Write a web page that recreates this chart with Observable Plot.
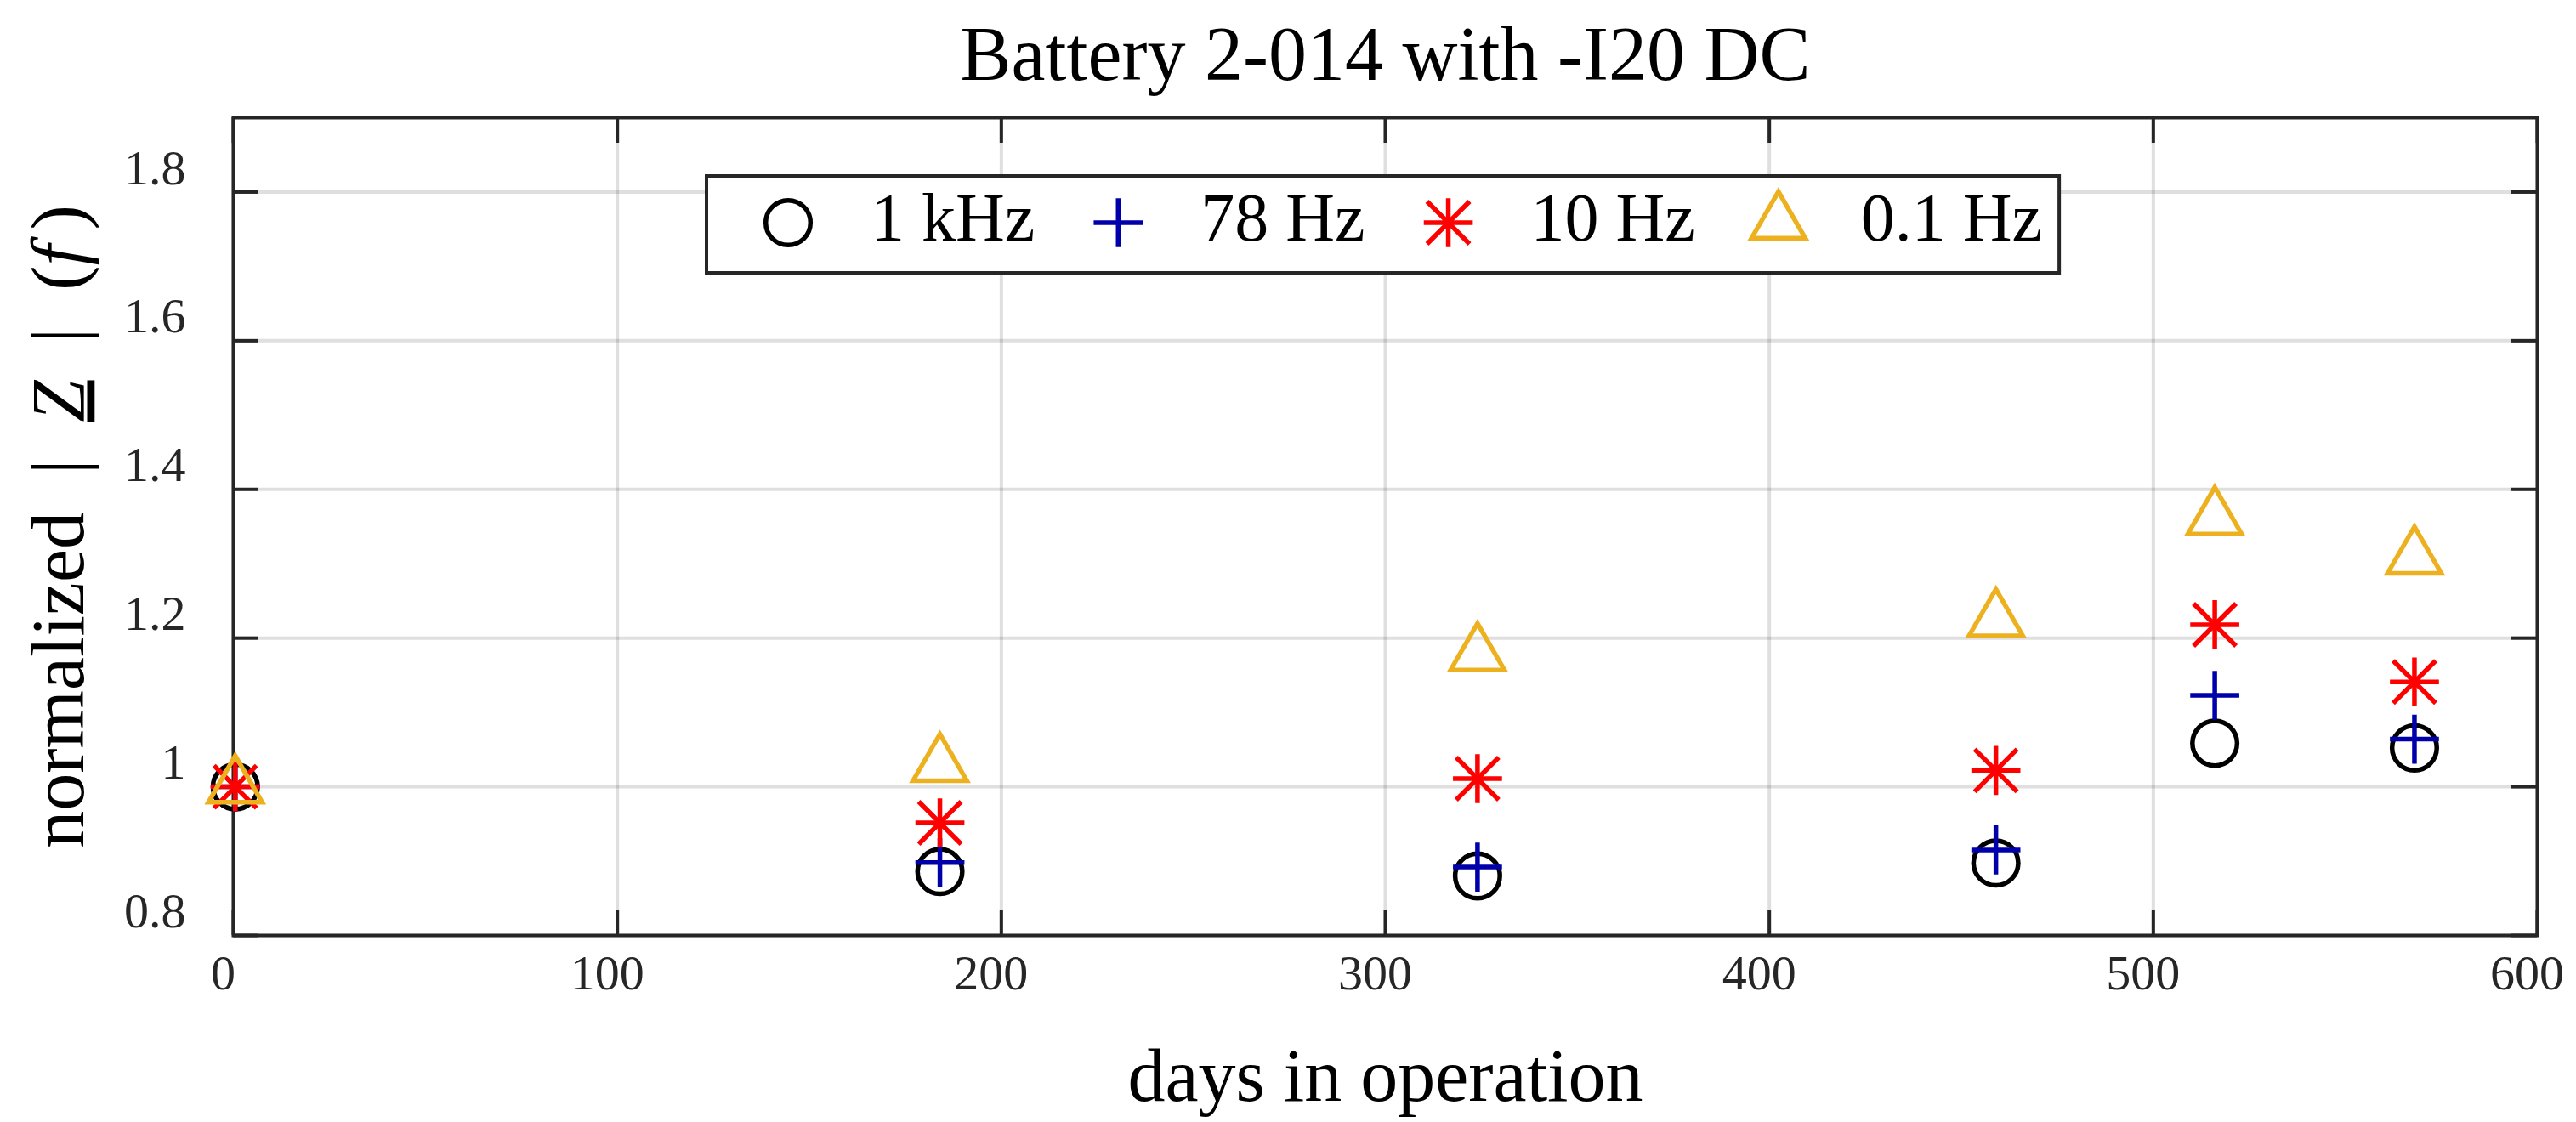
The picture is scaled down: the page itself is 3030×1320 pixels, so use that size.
<!DOCTYPE html>
<html>
<head>
<meta charset="utf-8">
<script src="https://cdn.jsdelivr.net/npm/d3@7"></script>
<script src="https://cdn.jsdelivr.net/npm/@observablehq/plot@0.6"></script>
<style>
  html, body { margin: 0; padding: 0; background: #ffffff; }
  #chart { width: 3030px; height: 1320px; }
</style>
</head>
<body>
<div id="chart"></div>
<script>
// ---- data ----
const titleText = "Battery 2-014 with -I20 DC";
const xLabel = "days in operation";
const yLabel = "normalized | Z | (f)";
const days = [0.5, 184, 324, 459, 516, 568];
const z1kHz = [1.0, 0.886, 0.880, 0.8975, 1.0586, 1.0523];
const z78Hz = [1.0, 0.898, 0.892, 0.915, 1.123, 1.064];
const z10Hz = [1.0, 0.9515, 1.011, 1.022, 1.218, 1.141];
const z01Hz = [1.0, 1.029, 1.178, 1.224, 1.361, 1.308];
const seriesNames = ["1 kHz", "78 Hz", "10 Hz", "0.1 Hz"];
const xTicks = [0, 100, 200, 300, 400, 500, 600];
const yTicks = [0.8, 1, 1.2, 1.4, 1.6, 1.8];

// ---- styling ----
const W = 3030, H = 1320, mL = 274, mR = 46, mT = 138, mB = 220;
const fw = W - mL - mR, fh = H - mT - mB;
const axisColor = "#262626";
const colors = ["#000000", "#0000aa", "#ff0000", "#edb120"];
const SW = 5.5;
const R = {circle: 26.3, plus: 18.6, times: 22.8, triangle: 30.2};
const font = "'Liberation Serif', 'DejaVu Serif', serif";

const rows = (vals) => days.map((d, i) => ({day: d, v: vals[i]}));

const starMarks = (data, color) => [
  Plot.dot(data, {x: "day", y: "v", symbol: d3.symbolPlus, r: R.plus, stroke: color, strokeWidth: SW}),
  Plot.dot(data, {x: "day", y: "v", symbol: d3.symbolTimes, r: R.times, stroke: color, strokeWidth: SW})
];

const chart = Plot.plot({
  width: W, height: H,
  marginLeft: mL, marginRight: mR, marginTop: mT, marginBottom: mB,
  x: {domain: [0, 600]},
  y: {domain: [0.8, 1.9]},
  style: {fontFamily: font, fontSize: "58px", background: "#ffffff", color: axisColor, overflow: "visible"},
  marks: [
    Plot.gridX(xTicks, {stroke: axisColor, strokeOpacity: 0.15, strokeWidth: 4}),
    Plot.gridY(yTicks, {stroke: axisColor, strokeOpacity: 0.15, strokeWidth: 4}),
    Plot.axisX(xTicks, {tickSize: 0, tickPadding: 22, dx: -12, label: null, tickFormat: d => String(d)}),
    Plot.axisY(yTicks, {tickSize: 0, tickPadding: 56, dy: -28, label: null, tickFormat: d => String(d)}),
    // inward ticks on all four sides
    Plot.tickX(xTicks, {x: d => d, insetTop: fh - 30, stroke: axisColor, strokeWidth: 4}),
    Plot.tickX(xTicks, {x: d => d, insetBottom: fh - 30, stroke: axisColor, strokeWidth: 4}),
    Plot.tickY(yTicks, {y: d => d, insetRight: fw - 30, stroke: axisColor, strokeWidth: 4}),
    Plot.tickY(yTicks, {y: d => d, insetLeft: fw - 30, stroke: axisColor, strokeWidth: 4}),
    Plot.frame({stroke: axisColor, strokeWidth: 4}),
    // data
    Plot.dot(rows(z1kHz), {x: "day", y: "v", symbol: "circle", r: R.circle, fill: "none", stroke: colors[0], strokeWidth: SW}),
    Plot.dot(rows(z78Hz), {x: "day", y: "v", symbol: d3.symbolPlus, r: R.plus, stroke: colors[1], strokeWidth: SW}),
    ...starMarks(rows(z10Hz), colors[2]),
    Plot.dot(rows(z01Hz), {x: "day", y: "v", symbol: d3.symbolTriangle2, r: R.triangle, fill: "none", stroke: colors[3], strokeWidth: SW}),
    // title and axis labels
    Plot.text([titleText], {frameAnchor: "top", dy: -45, lineAnchor: "bottom", textAnchor: "middle", fontSize: 90, fill: "#000000"}),
    Plot.text([xLabel], {frameAnchor: "bottom", dy: 194, lineAnchor: "bottom", textAnchor: "middle", fontSize: 88, fill: "#000000"}),
    Plot.text([yLabel], {frameAnchor: "left", dx: -177, rotate: -90, lineAnchor: "bottom", textAnchor: "middle", fontSize: 88, fill: "#000000"})
  ]
});
document.getElementById("chart").appendChild(chart);

const svg = d3.select(chart);

// format y label with italic / underlined symbols (wider math spacing)
const sp = "\u00a0\u00a0";
svg.selectAll("text").filter(function () { return this.textContent === yLabel; }).each(function () {
  const t = d3.select(this);
  t.text(null);
  t.append("tspan").text("normalized" + sp + "|" + sp);
  t.append("tspan").attr("font-style", "italic").attr("text-decoration", "underline").text("Z");
  t.append("tspan").text(sp + "|" + sp + "(");
  t.append("tspan").attr("font-style", "italic").text("f\u2009");
  t.append("tspan").text(")");
});

// legend box inside the plot
const legendSymbols = [
  [d3.symbolCircle, R.circle],
  [d3.symbolPlus, R.plus],
  null,
  [d3.symbolTriangle2, R.triangle]
];
const lg = svg.append("g").attr("font-family", font).attr("font-size", 80).attr("text-anchor", "start");
const box = lg.append("rect")
  .attr("x", 831).attr("y", 207).attr("width", 1606).attr("height", 114)
  .attr("fill", "#ffffff").attr("stroke", axisColor).attr("stroke-width", 4);
let cx = 927;
const cy = 262;
let textEnd = 0;
seriesNames.forEach((name, i) => {
  const g = lg.append("g").attr("transform", `translate(${cx},${cy})`)
    .attr("fill", "none").attr("stroke", colors[i]).attr("stroke-width", SW);
  if (legendSymbols[i]) {
    const [type, r] = legendSymbols[i];
    g.append("path").attr("d", d3.symbol(type, Math.PI * r * r)());
  } else {
    g.append("path").attr("d", d3.symbol(d3.symbolPlus, Math.PI * R.plus * R.plus)());
    g.append("path").attr("d", d3.symbol(d3.symbolTimes, Math.PI * R.times * R.times)());
  }
  const t = lg.append("text").attr("x", cx + 97).attr("y", 283)
    .attr("text-anchor", "start").attr("fill", "#000000").text(name);
  const w = t.node().getComputedTextLength();
  textEnd = cx + 97 + w;
  cx = textEnd + 98;
});
box.attr("width", textEnd + 20 - 831);
</script>
</body>
</html>
